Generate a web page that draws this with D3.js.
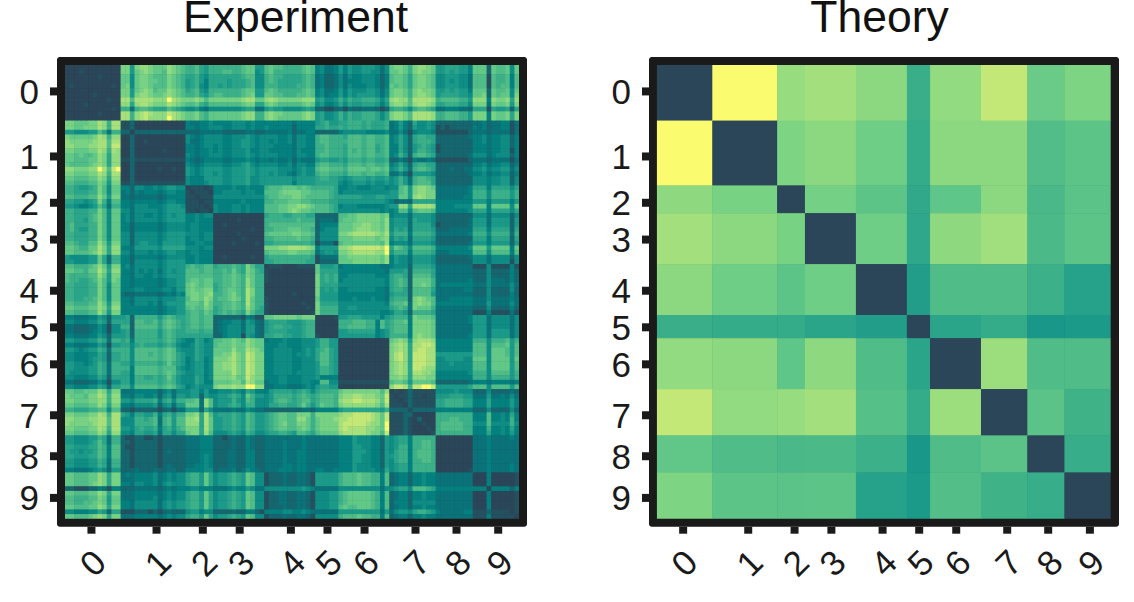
<!DOCTYPE html>
<html><head><meta charset="utf-8">
<script src="https://cdnjs.cloudflare.com/ajax/libs/d3/7.8.5/d3.min.js"></script>
<style>html,body{margin:0;padding:0;background:#fff}svg{display:block}text{font-family:"Liberation Sans",Arial,sans-serif;fill:#1a1a1a}</style>
</head><body><svg id="c" width="1134" height="602"></svg>
<script>
const labels = ["0","1","2","3","4","5","6","7","8","9"];
const groupSizes = [12,14,6,11,11,5,11,10,8,10];
const tickPositions = [5.6,19.65,29.65,37.6,48.65,56.55,64.55,75.55,84.4,93.4];
const titles = ["Experiment","Theory"];
const levelColors = ["#2b4658","#25505f","#16666f","#0a7278","#04807f","#0f8d84","#1c9a89","#2ba58a","#3cb088","#50bc88","#62c888","#78d284","#90da80","#a8e07c","#c4e878","#fbfb70"];
const frameColor = "#1a1a1a";

// Theory: level per pair of digit groups, estimated by eye (0 = darkest, 15 = yellow).
const theory = [
[0,15,12.3,12.8,11.8,7.8,12.1,14,10.3,11.2],
[15,0,11.2,11.8,10.6,7.5,11.8,11.8,9.1,9.7],
[11.9,11,0,10.8,9.7,7.3,9.8,11.8,8.7,9.6],
[12.8,11.8,11,0,10.6,7.2,11.9,12.7,8.8,9.7],
[11.8,10.6,9.7,10.6,0,6.3,9,9,8,6.7],
[7.8,7.5,7.5,7,6.3,0,7,7.5,5.8,6],
[12.1,11.8,9.8,11.9,9,7,0,12.5,9,9],
[14,12.1,12.3,12.8,9.3,7.5,12.5,0,9.6,8.2],
[9.9,9,8.7,8.8,8,5.8,9,9.6,0,7.7],
[11.2,9.7,9.6,9.7,6.7,6,9.2,8.2,7.7,0]];

// Experiment: hex level per cell, estimated by eye. Each row starts at its own group's
// block and runs to group 9; segments are separated by spaces. Lower blocks mirror these.
const expGroup0 = [
"000000000000 bb6bccbaaacba9 889768 8888889aa66 9a9988889a9 45334 64655666535 abba8bccba 66777664 aaa2a99a5a",
"000100000000 bb6abcbaa9cba9 889768 8899889aa56 9a8888889a9 45334 64655665535 aaba8bcbba 66767664 aaa2a99a5a",
"000000010000 aa5abba999ba98 778657 77777789955 89887777898 34223 53544555424 9aa97abba9 55666553 9991988949",
"000000000000 aa5abbaa99ba98 678647 77767778955 89877777898 34223 53444555424 9aa97abba9 55656553 9991988949",
"010000000010 ab5abba999ba98 678547 76767778955 88877778898 34223 53544455424 a9a97abba9 55666553 9991989949",
"000000000000 bb6abcb9aacba9 789658 8888889aa66 9a9888889a9 45334 64655566535 abba8bcbba 66767664 aaa2a99a5a",
"000000100000 bb6bccbaabcba9 889768 9988889ab66 aa9988899a9 45344 64656666535 abba8bccba 67777665 aab2a9aa5b",
"000000000100 dd9ddddcccfdcb bbcb9b bbbbbbcddaa cdcbbbbbccc 67556 86877888757 cdcc9ddddc 89999886 ccc4cbbc7c",
"000010000000 cc7cddcbbbdcba 99a879 999999abb77 aba99999aba 56445 75766777646 bccb9cddcb 77888775 bbb3baab6b",
"000000000010 88389987779876 556435 55555567733 67665555676 22112 31322333212 7887589987 33444332 7771766727",
"000000010000 dd8cdedcccedcb aab98a aaaaaabcc88 bcbbaaaabcb 67556 86877888757 bccb9ddddc 88999886 bbb4baab7b",
"000000000000 dd8cdeccccfdcb aab98a aaaaaabcc88 bcbaaaaabcb 67556 86877888757 bccb9ddddc 88999886 bbb4baab7b"];
const expGroup1 = [
"11200000000000 433445 44445554544 44444434444 67866 77888787778 3464275565 22222222 3342334413",
"11200000000000 443445 55445554544 54444424444 77877 87888787778 3464265565 12122222 4342334413",
"22022222222222 222333 33222223322 33333423344 22222 45555544445 3353145554 11111112 3332333313",
"00200000000000 543455 55445556545 55544535544 89988 87999899889 4575278877 22222223 4453445524",
"00200100000000 533455 55445566545 54544535544 89988 88999899889 4575278887 22222222 4453445524",
"00200000000000 443455 45445566545 55444435544 88988 87999899789 4475267876 12222222 4443445524",
"00200000010000 443445 45445556445 54444435444 88988 87989899789 4475268876 12222222 4443445514",
"00200000000000 543445 55445556545 55544435544 89988 87999899889 4586289987 22222223 5553455524",
"11211111111111 432344 44334445434 43433424333 67766 76888788778 2242143343 11111112 3332333313",
"00200000000000 543455 55445567545 55544535544 89988 87999899889 4575278877 22222222 4453445524",
"00200000100100 654566 66556667656 66655545655 9aa99 98aaaa9aa9a 5686389987 22232233 5564556635",
"00200000000000 654566 56556667656 65655435655 89988 87999899889 3353166665 22222223 4453445524",
"00200000000000 544466 66556667556 66666656666 78877 65677767667 5686389987 22222222 5554556625",
"11211111111111 544456 66556667556 66666646666 77777 54566656556 5686389997 22222222 5554556625"];
const expGroup2 = [
"011101 44445445444 8999aaa9a98 88887 44554445554 559a6bccba 33333334 7774777757",
"101110 44555545544 999abbbbaa9 99987 45555555555 669a6bccbb 33333334 8885888868",
"110111 55555555555 899aaabba99 99987 77777666776 66aa6cdcbb 33333344 8885888868",
"111011 44444454444 88999aaa998 88877 66666666665 4233277777 44444444 6664666646",
"111101 54445545444 999aabbccba 99987 45554444445 66cc7ddddc 44445555 aaa4aaaa5a",
"110110 54445545444 999aabcbaa9 99987 55555555545 459959aaa9 44444445 7774777757"];
const expGroup3 = [
"00000000000 78887788877 22222 99aabbbbbab 4555366665 22222222 5553555525",
"00000100000 88888889888 23332 9aaabbbbbac 5666376665 22222223 6663666626",
"00100000000 89999999999 24444 aaabbccbbac 5666377775 12222223 6663666626",
"00000000100 88999aaa998 24555 aaabcccbbac 5767377776 22233333 7774777727",
"00000100000 9aaaaabbaa9 25555 bbcdddddcbd 6888488887 33333334 8885888838",
"00000010000 8899999a998 25555 aaabbbbbabc 5767377776 22222222 7774777727",
"00001000010 77888888887 13331 9aaaaaaaa9c 4555366665 22222223 6664666626",
"00000000000 bbbccddddcb 46666 ccdeeeeeedf 7a98599998 44444445 aaa6aaaa4a",
"00000000000 9aaaabbaaa9 35665 bbcdddddccf 6888488887 33344444 9995999949",
"00100000100 78888888887 13333 aabbbbbbbac 4655366665 22222223 5553555525",
"00000000000 77888888877 12222 aaabbbbbbac 4655366665 22222222 5553555515"];
const expGroup4 = [
"01110001111 a6667 34444444433 4555277776 33333333 1115111141",
"10000000000 a7777 44444444443 6667288887 33333333 2225222242",
"10000000000 b7878 44555555444 7887299997 33333333 2225222242",
"10000000000 b7878 45555555554 78982aaaa8 33333334 2225333242",
"00000000000 b7777 55555555554 78982aaba8 34444444 3335333353",
"00000000000 b6767 44555555443 7887299997 33333344 2225222252",
"00000010000 b6666 44444444443 6777299996 33333333 2225222242",
"10000000000 a6666 44454445443 78882bcba9 33344444 3335333343",
"10000000100 b7777 55555555554 899a3bcbb9 44444444 3336333353",
"10000000010 b8888 55665555555 78983baaa8 33333333 2225222242",
"10000000001 b8888 55555555544 5776288887 33333333 1114111131"];
const expGroup5 = [
"00001 66777666646 78884baaa9 33333334 6663555535",
"00000 88899988497 899a4bbbba 33333334 6663555535",
"00000 88999988497 89994bbbba 33333333 6663555535",
"00000 66777777456 89994bbbba 33333333 6663666635",
"10000 66666666456 88884bcbba 33333334 6663666635"];
const expGroup6 = [
"00000000000 abcb6cdddc 44444444 8885888968",
"00000000000 bcdc7ddeed 44444444 9995999a69",
"00000000000 bcdc7deedd 44444444 9995aaa969",
"00000000000 bdec7eeedd 66666666 9995aaa969",
"00000000000 bdec7eeedd 55666655 aaa5aaaa6a",
"00000000000 bcdc7eeedd 55565555 9995aaaa69",
"00000000000 bcdc7eedcc 55555555 9995aaaa69",
"00000000000 bcdc7ddccb 44444445 8885999968",
"00000000000 bbcb7cccbb 44444444 8885888868",
"11111111111 9aa96aaaa9 22222223 4443444434",
"00000000000 ceed8eeffe 66666667 9995999969"];
const expGroup7 = [
"0101211111 55556555 2225222232",
"1011211011 66677766 3336334353",
"1101211111 77888877 4447444464",
"1110211111 77888877 4447444464",
"2222122222 44444444 2225222252",
"1112200000 88888888 4449445474",
"1112102000 88899888 4449445484",
"1112100100 89999988 5559555585",
"1112100010 89999988 4448445474",
"1112100001 88888888 4447445464"];
const expGroup8 = [
"00000000 3334333343",
"00000000 3334333333",
"00000000 3334333333",
"00000000 3334333333",
"00000000 3334333333",
"00000000 3334333333",
"00000000 3334333343",
"00000001 3334333343"];
const expGroup9 = [
"0004000001",
"0004000001",
"0004000001",
"4440444424",
"0004000001",
"0004000001",
"0004000001",
"0004000001",
"1112111101",
"1114111110"];
const expGroups = [expGroup0,expGroup1,expGroup2,expGroup3,expGroup4,expGroup5,expGroup6,expGroup7,expGroup8,expGroup9];

const starts = d3.cumsum([0].concat(groupSizes));
const total = starts[10];
const experiment = Array.from({length:total},()=>new Array(total).fill(0));
expGroups.forEach((rows,g)=>rows.forEach((row,r)=>{
  const i = starts[g]+r;
  row.split(" ").forEach((seg,k)=>{
    const h = g+k;
    if(seg.length!==groupSizes[h]) console.error("bad segment",g,r,h,seg.length);
    for(let c=0;c<groupSizes[h];c++){
      const j = starts[h]+c, v = parseInt(seg[Math.min(c,seg.length-1)],16);
      experiment[i][j]=v;
      if(h!==g) experiment[j][i]=v;
    }
  });
}));

const color = d3.scaleLinear().domain(d3.range(16)).range(levelColors).clamp(true);
const svg = d3.select("#c");
const panels = [{x0:65,x1:519,ol:57,or:527,tx:295.5,title:titles[0]},
                {x0:656.7,x1:1110.7,ol:649,or:1119,tx:879.5,title:titles[1]}];
const y0=65,y1=518.7;

panels.forEach((p,pi)=>{
  const g = svg.append("g");
  const x = d3.scaleLinear().domain([0,total]).range([p.x0,p.x1]);
  const y = d3.scaleLinear().domain([0,total]).range([y0,y1]);
  svg.append("clipPath").attr("id","clip"+pi).append("rect")
    .attr("x",p.x0).attr("y",y0).attr("width",p.x1-p.x0).attr("height",y1-y0);
  g.append("rect").attr("x",p.ol).attr("y",57).attr("width",p.or-p.ol).attr("height",469.7)
    .attr("rx",3).attr("fill",frameColor);
  const cellLayer = g.append("g").attr("clip-path",`url(#clip${pi})`);
  const cells=[];
  (pi===0?experiment:theory).forEach((row,i)=>row.forEach((v,j)=>cells.push({i,j,v})));
  const edge = pi===0 ? (n=>n) : (n=>starts[n]);
  cellLayer.selectAll("rect").data(cells).join("rect")
    .attr("x",d=>x(edge(d.j))).attr("y",d=>y(edge(d.i)))
    .attr("width",d=>x(edge(d.j+1))-x(edge(d.j))+.5)
    .attr("height",d=>y(edge(d.i+1))-y(edge(d.i))+.5)
    .attr("fill",d=>color(d.v));

  const fmt = (_,i)=>labels[i];
  const ay = g.append("g").attr("transform",`translate(${p.ol},0)`)
    .call(d3.axisLeft(y).tickValues(tickPositions).tickFormat(fmt).tickSizeInner(7).tickSizeOuter(0));
  ay.select(".domain").remove();
  ay.selectAll("line").attr("stroke",frameColor).attr("stroke-width",8);
  ay.selectAll("text").attr("dy",null).attr("y",12.5).attr("x",-18).attr("text-anchor","end")
    .style("font-size","35px").style("font-family","'Liberation Sans'").attr("fill","#1a1a1a");

  const ax = g.append("g").attr("transform",`translate(0,526.7)`)
    .call(d3.axisBottom(x).tickValues(tickPositions).tickFormat(fmt).tickSizeInner(7).tickSizeOuter(0));
  ax.select(".domain").remove();
  ax.selectAll("line").attr("stroke",frameColor).attr("stroke-width",8);
  ax.selectAll("text").attr("text-anchor","middle").attr("y",null).attr("dy",null)
    .attr("transform","translate(1,36) rotate(-45) translate(0,12.5)")
    .style("font-size","35px").style("font-family","'Liberation Sans'").attr("fill","#1a1a1a");

  g.append("text").attr("x",p.tx).attr("y",32).attr("text-anchor","middle")
    .style("font-size","44.5px").style("fill","#111").text(p.title);
});
</script></body></html>
